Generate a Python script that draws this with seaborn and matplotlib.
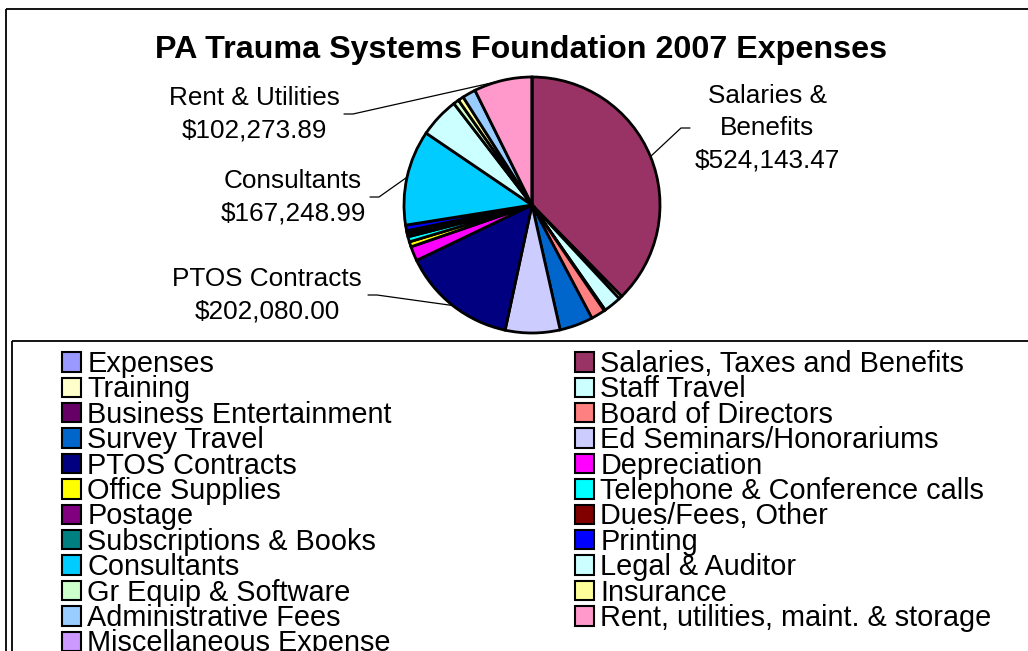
import matplotlib.pyplot as plt
import matplotlib.patches as mpatches
import seaborn as sns
import numpy as np

categories = [
    "Expenses", "Salaries, Taxes and Benefits", "Training", "Staff Travel",
    "Business Entertainment", "Board of Directors", "Survey Travel",
    "Ed Seminars/Honorariums", "PTOS Contracts", "Depreciation",
    "Office Supplies", "Telephone & Conference calls", "Postage",
    "Dues/Fees, Other", "Subscriptions & Books", "Printing", "Consultants",
    "Legal & Auditor", "Gr Equip & Software", "Insurance",
    "Administrative Fees", "Rent, utilities, maint. & storage",
    "Miscellaneous Expense",
]
# amounts in dollars (small ones)
amounts = [
    0, 524143.47, 5900, 31300,
    2000, 25000, 58700,
    96000, 202080.00, 25400,
    9000, 9000, 4700,
    3100, 3100, 9800, 167248.99,
    70500, 9800, 9800,
    23500, 102273.89,
    0,
]
colors = [
    "#9999FF", "#993366", "#FFFFCC", "#CCFFFF",
    "#660066", "#FF8080", "#0066CC",
    "#CCCCFF", "#000080", "#FF00FF",
    "#FFFF00", "#00FFFF", "#800080",
    "#800000", "#008080", "#0000FF", "#00CCFF",
    "#CCFFFF", "#CCFFCC", "#FFFF99",
    "#99CCFF", "#FF99CC",
    "#CC99FF",
]
# slices that get a callout label: index -> (text, label centre in px)
callouts = {
    1: ("Salaries &\nBenefits\n$524,143.47", (767, 128)),
    21: ("Rent & Utilities\n$102,273.89", (254, 114)),
    16: ("Consultants\n$167,248.99", (293, 197)),
    8: ("PTOS Contracts\n$202,080.00", (267, 295)),
}
# where the leader line meets the label (px from label centre)
leader_gap = {1: -77, 21: 90, 16: 77, 8: 101}

sns.set_style("white")
plt.rcParams["font.family"] = ["Liberation Sans", "DejaVu Sans"]
plt.rcParams["text.color"] = "black"

W, H = 1028, 651
fig = plt.figure(figsize=(W / 100, H / 100), dpi=100)
ax = fig.add_axes([0, 0, 1, 1])

cx, cy, r = 532, 205, 128
# y axis is flipped below, so start at -90 (screen top) and counterclock
# in data space runs clockwise on screen
wedges, _ = ax.pie(amounts, colors=colors, startangle=-90, counterclock=True,
                   center=(cx, cy), radius=r, frame=True,
                   wedgeprops=dict(edgecolor="black", linewidth=2.0))
ax.set_xlim(0, W)
ax.set_ylim(H, 0)
ax.axis("off")
ax.set_aspect("equal")

for i, (txt, (tx, ty)) in callouts.items():
    w = wedges[i]
    mid = np.deg2rad((w.theta1 + w.theta2) / 2)
    px, py = cx + r * np.cos(mid), cy + r * np.sin(mid)
    ax.text(tx, ty, txt, ha="center", va="center", fontsize=18.8,
            linespacing=1.43, color="black")
    ex = tx + leader_gap[i]
    elbow = ex + 9 * np.sign(leader_gap[i])
    ax.plot([ex, elbow, px], [ty, ty, py], color="black", lw=0.9)

ax.text(521, 50, "PA Trauma Systems Foundation 2007 Expenses", ha="center",
        va="center", fontsize=23.2, fontweight="bold", color="black")

# chart border and legend box (both run past the right/bottom edges)
ax.add_patch(mpatches.Rectangle((6, 9), 1100, 700, fill=False,
                                edgecolor="black", lw=1.3, clip_on=False))
ax.add_patch(mpatches.Rectangle((12, 341), 1100, 400, fill=False,
                                edgecolor="black", lw=1.3, clip_on=False))

handles = [mpatches.Patch(facecolor=c, edgecolor="black", linewidth=1.5,
                          label=n) for n, c in zip(categories, colors)]
left = handles[0::2]
right = handles[1::2]
common = dict(frameon=False, fontsize=20.8, handlelength=0.66,
              handleheight=0.66, handletextpad=0.22, labelspacing=-0.09,
              borderpad=0, borderaxespad=0, loc="upper left",
              labelcolor="black")
fig.legend(handles=left, bbox_to_anchor=(62 / W, 1 - 350 / H), **common)
fig.legend(handles=right, bbox_to_anchor=(575 / W, 1 - 350 / H), **common)

fig.savefig("out.png", dpi=100)
